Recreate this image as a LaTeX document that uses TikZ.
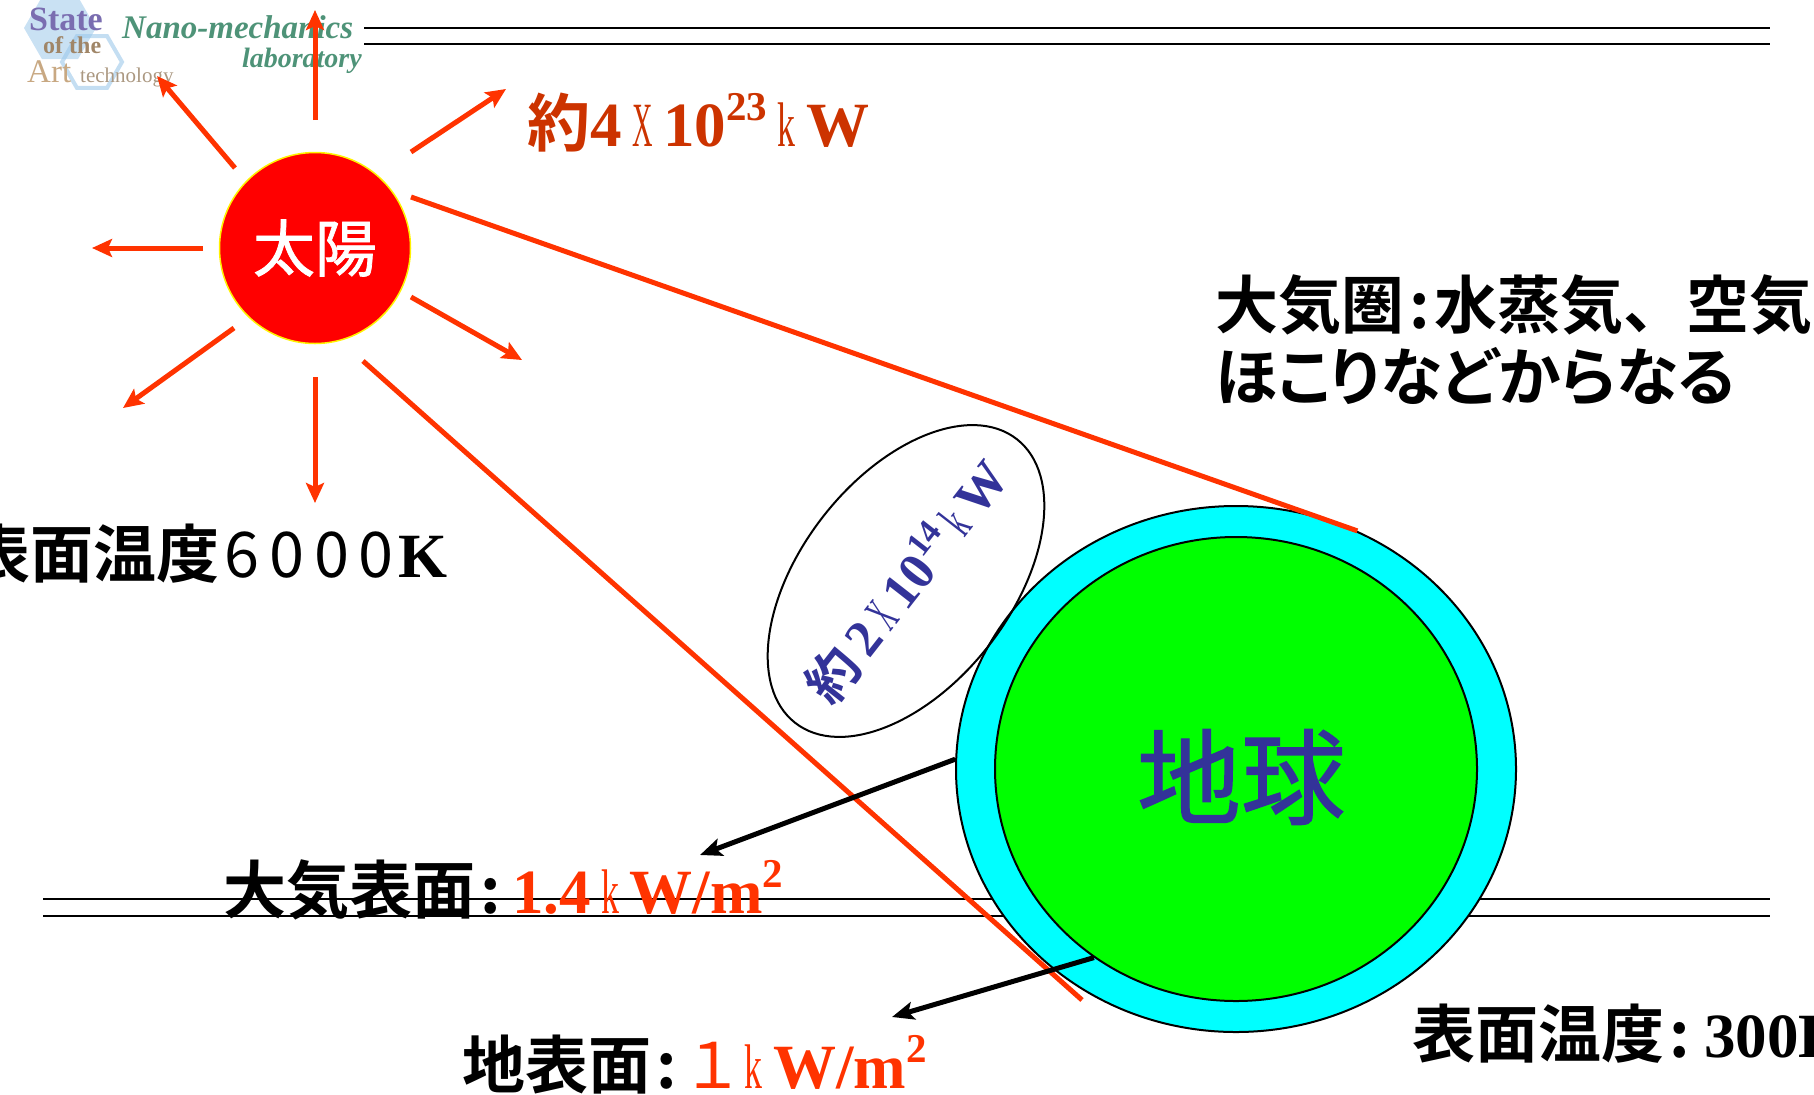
\documentclass[tikz,border=0pt]{standalone}
\usepackage{fontspec}
\usepackage{graphicx}
\setmainfont{Liberation Serif}
\newfontfamily\gothic{Noto Sans CJK JP}[BoldFont={Noto Sans CJK JP Bold}]
\newfontfamily\gothicmid{Noto Sans CJK JP}[FakeBold=1.2]
\newfontfamily\gothickana{Noto Sans CJK JP}[BoldFont={Noto Sans CJK JP Bold},RawFeature=+palt]
\usetikzlibrary{arrows.meta,calc,shapes.geometric}

\definecolor{rayred}{HTML}{FF3300}
\definecolor{powred}{HTML}{CC3300}
\definecolor{textblue}{HTML}{333399}
\definecolor{sunred}{HTML}{FF0000}
\definecolor{airblue}{HTML}{00FFFF}
\definecolor{landgreen}{HTML}{00FF00}
\definecolor{logogreen}{HTML}{2F8060}
\definecolor{logoblue}{HTML}{9CC8EA}
\definecolor{logopurple}{HTML}{7A6DB0}
\definecolor{logotan}{HTML}{C8A882}

\newcommand{\lblsize}{\fontsize{63bp}{74bp}\selectfont}
\newcommand{\slim}[2][0.57]{\scalebox{#1}[1]{\mdseries #2}}	%narrow x and k
\newcommand{\supnum}[1]{\raisebox{0.4em}{\scalebox{0.65}{#1}}}
\newcommand{\digitbox}[1]{\makebox[44.7bp]{#1}}
\newcommand{\colsep}{\hspace{.08em}:\hspace{.08em}}

\begin{document}
\begin{tikzpicture}[x=1bp,y=-1bp,
	ray/.style={line width=5bp,rayred,-{Stealth[length=20bp,width=18bp,inset=4bp]}},
	beam/.style={line width=5bp,rayred},
	pointer/.style={line width=5bp,black,-{Stealth[length=22bp,width=18bp,inset=5bp]}},
	rule/.style={line width=2.5bp,black},
	lbl/.style={inner sep=0pt,anchor=base west,font=\lblsize\gothic\bfseries}]
	\useasboundingbox (0,0) rectangle (1814,1094);
	
	%RULES
	\draw[rule] (364,28)--(1770,28);
	\draw[rule] (364,44)--(1770,44);
	\draw[rule] (43,899)--(1770,899);
	\draw[rule] (43,916)--(1770,916);
	
	%LOGO
	\fill[logoblue,opacity=.55] (60,28) +(0:36) \foreach \a in {60,120,...,300}{ -- +(\a:36)} -- cycle;
	\draw[logoblue,line width=4bp,opacity=.6] (92,62) +(0:30) \foreach \a in {60,120,...,300}{ -- +(\a:30)} -- cycle;
	\node[inner sep=0pt,anchor=base west,text=logopurple,font=\fontsize{34bp}{34bp}\selectfont\bfseries] (logostate) at (29,30) {State};
	\node[inner sep=0pt,anchor=base west,text=logotan!80!black,font=\fontsize{24bp}{24bp}\selectfont\bfseries] (logoof) at (43,53) {of the};
	\node[inner sep=0pt,anchor=base west,text=logotan,font=\fontsize{33bp}{33bp}\selectfont] (logoart) at (27,82) {Art};
	\node[inner sep=0pt,anchor=base west,text=logotan!60!gray,font=\fontsize{21bp}{21bp}\selectfont] (logotech) at (80,82) {technology};
	\node[inner sep=0pt,anchor=base west,text=logogreen,opacity=.85,font=\fontsize{33bp}{33bp}\selectfont\bfseries\itshape] (logonano) at (122,38) {Nano-mechanics};
	\node[inner sep=0pt,anchor=base east,text=logogreen,opacity=.85,font=\fontsize{28bp}{28bp}\selectfont\bfseries\itshape] (logolab) at (362,67) {laboratory};
	
	%SUN
	\node[circle,fill=sunred,draw=yellow,line width=1.5bp,minimum size=191bp,inner sep=0pt,
		text=white,font=\fontsize{62bp}{62bp}\selectfont\gothicmid] (sun) at (315,248) {\raisebox{-5bp}{太陽}};
	\foreach \tail/\dir in {{0,-128}/{0,-110},{-80,-80}/{-78,-92},{96,-96}/{95,-63},{-112,0}/{-111,0},
		{-81,80}/{-111,80},{0,129}/{0,126},{96,49}/{111,63}}
		\draw[ray] (sun.center) ++(\tail) -- ++(\dir);
	
	%EARTH
	\node[ellipse,fill=airblue,draw=black,line width=2bp,minimum width=560bp,minimum height=526bp,inner sep=0pt] (atmo) at (1236,769) {};
	\node[ellipse,fill=landgreen,draw=black,line width=2bp,minimum width=482bp,minimum height=464bp,inner sep=0pt] (land) at (1236,769) {};
	\node[text=textblue,font=\fontsize{104bp}{104bp}\selectfont\gothicmid] (earthname) at (1241,777) {地球};
	
	%BEAMS TO EARTH
	\coordinate (tanB) at (1082,1000);
	\draw[beam] ($(sun.center)+(96,-51)$) -- (atmo.63);
	\draw[beam] ($(sun.center)+(48,113)$) -- (tanB);
	
	%FLUX ELLIPSE
	\node[ellipse,draw=black,line width=2bp,minimum width=360bp,minimum height=210bp,inner sep=0pt,rotate=52] (fluxring) at (906,581) {};
	\node[rotate=52,inner sep=0pt,text=textblue,font=\fontsize{52bp}{52bp}\selectfont\gothic\bfseries] (flux) at (fluxring.center)
		{約\,{\rmfamily 2\,\slim[0.45]{X}\,10\supnum{14}\,\slim{k}\,W}};
	
	%POINTERS
	\coordinate (tipA) at (700,855);
	\coordinate (tipB) at (892,1017);
	\draw[pointer] (atmo.178) -- (tipA);
	\draw[pointer] (land.233) -- (tipB);
	
	%LABELS
	\node[lbl,text=powred] (sunpower) at (527,146) {約{\rmfamily 4\,\slim[0.45]{X}\,10\supnum{23}\,\slim{k}\,W}};
	\node[lbl,anchor=base east] (suntemp) at (448,577) {表面温度{\mdseries\digitbox{6}\digitbox{0}\digitbox{0}\digitbox{0}}{\rmfamily K}};
	%
	\node[lbl] (atmos) at (1215,328) {大気圏\colsep 水蒸気、空気};
	\node[lbl,font=\lblsize\gothickana\bfseries] (atmostail) at (1215,400) {ほこりなどからなる};
	%
	\node[lbl] (topflux) at (223,913) {大気表面\colsep{\color{rayred}\rmfamily\hspace{.1em}1.4\,\slim{k}\,W/m\supnum{2}}};
	\node[lbl] (groundflux) at (462,1088) {地表面\colsep{\color{rayred}{\mdseries １}{\rmfamily\slim{k}\,W/m\supnum{2}}}};
	\node[lbl] (earthtemp) at (1412,1057) {表面温度\colsep{\rmfamily\hspace{.15em}300K}};
\end{tikzpicture}
\end{document}
